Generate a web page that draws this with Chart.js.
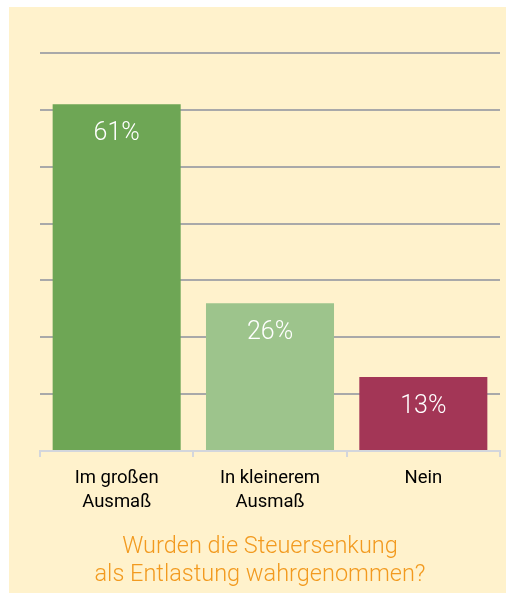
<!DOCTYPE html>
<html lang="de">
<head>
<meta charset="utf-8">
<script src="https://cdn.jsdelivr.net/npm/chart.js@4/dist/chart.umd.min.js"></script>
<style>
    html, body { margin: 0; padding: 0; background: #ffffff; }
    #wrap { position: absolute; left: 0; top: 0; width: 506px; height: 595px; }
</style>
</head>
<body>
<div id="wrap"><canvas id="taxChart"></canvas></div>
<script>
// Daten aus der Grafik
const categories = [["Im großen", "Ausmaß"], ["In kleinerem", "Ausmaß"], "Nein"];
const values = [61, 26, 13];
const barColors = ["#6EA655", "#9DC48C", "#A33656"];
const titleLines = ["Wurden die Steuersenkung", "als Entlastung wahrgenommen?"];

// cremefarbener Hintergrund
const creamBg = {
    id: "creamBg",
    beforeDraw(chart) {
        const ctx = chart.ctx;
        ctx.save();
        ctx.fillStyle = "#FFF2CC";
        ctx.fillRect(9, 7, chart.width - 9, chart.height - 9);
        ctx.restore();
    }
};

// Prozentwerte in den Balken
const barLabels = {
    id: "barLabels",
    afterDatasetsDraw(chart) {
        const ctx = chart.ctx;
        const meta = chart.getDatasetMeta(0);
        ctx.save();
        ctx.fillStyle = "#ffffff";
        ctx.font = "300 25px Roboto";
        ctx.textAlign = "center";
        ctx.textBaseline = "middle";
        meta.data.forEach((bar, i) => {
            ctx.fillText(values[i] + "%", bar.x, bar.y + 30);
        });
        ctx.restore();
    }
};

function initChart() {
    const canvas = document.getElementById("taxChart");

    new Chart(canvas, {
        type: "bar",
        data: {
            labels: categories,
            datasets: [{
                data: values,
                backgroundColor: barColors,
                borderWidth: 0,
                barPercentage: 1,
                categoryPercentage: 0.835
            }]
        },
        options: {
            responsive: true,
            maintainAspectRatio: false,
            animation: false,
            layout: {
                padding: { left: 20, right: 6, top: 53, bottom: 2 }
            },
            plugins: {
                legend: { display: false },
                tooltip: { enabled: false },
                title: {
                    display: true,
                    position: "bottom",
                    text: titleLines,
                    color: "#F29A1F",
                    font: { family: "Roboto", size: 23.5, weight: "300", lineHeight: 28 / 23.5 },
                    padding: { top: 0, bottom: 4 }
                }
            },
            scales: {
                x: {
                    grid: {
                        display: true,
                        drawOnChartArea: false,
                        drawTicks: true,
                        tickLength: 6,
                        color: "#D3D6DC",
                        lineWidth: 2
                    },
                    border: { display: true, color: "#D3D6DC", width: 2 },
                    ticks: {
                        color: "#000000",
                        padding: 9,
                        maxRotation: 0,
                        autoSkip: false,
                        font: { family: "Roboto", size: 18.5, lineHeight: 24 / 18.5 }
                    },
                    afterFit: (scale) => { scale.height = 82; }
                },
                y: {
                    min: 0,
                    max: 70,
                    ticks: { display: false, stepSize: 10 },
                    border: { display: false },
                    grid: {
                        drawTicks: false,
                        lineWidth: 2,
                        color: (c) => (c.tick && c.tick.value === 0) ? "rgba(0,0,0,0)" : "#A9A9A9"
                    },
                    afterFit: (scale) => { scale.width = 20; }
                }
            }
        },
        plugins: [creamBg, barLabels]
    });
}

document.addEventListener("DOMContentLoaded", initChart);
</script>
</body>
</html>
